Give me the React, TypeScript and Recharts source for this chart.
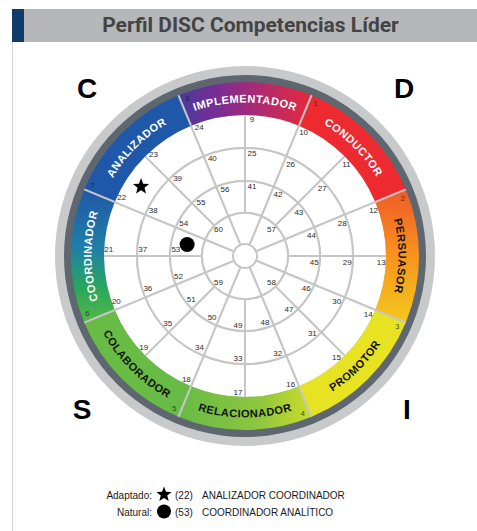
import { Cell, Pie, PieChart } from "recharts";

// DISC wheel, sectors listed clockwise starting at 112.5deg (upper left of top)
const sectorNames = [
  "IMPLEMENTADOR",
  "CONDUCTOR",
  "PERSUASOR",
  "PROMOTOR",
  "RELACIONADOR",
  "COLABORADOR",
  "COORDINADOR",
  "ANALIZADOR",
];
const sectorNumbers = [8, 1, 2, 3, 4, 5, 6, 7];
const sectorFills = [
  "url(#gImpl)",
  "#ec2a30",
  "url(#gPers)",
  "#e7e222",
  "url(#gRel)",
  "#68bc45",
  "url(#gCoord)",
  "#1f58a8",
];
const sectorTextColors = ["#fff", "#fff", "#111", "#111", "#111", "#111", "#fff", "#fff"];
// text reads clockwise (true) or counter-clockwise (false)
const sectorClockwise = [true, true, true, false, false, false, true, true];

// white rings, cells clockwise from 90deg
const outerCells = [9, 10, 11, 12, 13, 14, 15, 16, 17, 18, 19, 20, 21, 22, 23, 24];
const middleCells = [25, 26, 27, 28, 29, 30, 31, 32, 33, 34, 35, 36, 37, 38, 39, 40];
const innerCells = [41, 42, 43, 44, 45, 46, 47, 48, 49, 50, 51, 52, 53, 54, 55, 56];
// core ring, cells clockwise from 112.5deg
const coreCells = [null, 57, null, 58, null, 59, null, 60];

const adaptadoCell = 22;
const naturalCell = 53;
const legendRows = [
  { label: "Adaptado:", marker: "star", code: "(22)", text: "ANALIZADOR COORDINADOR" },
  { label: "Natural:", marker: "dot", code: "(53)", text: "COORDINADOR ANALÍTICO" },
];

const cornerLetters = [
  { text: "C", x: 87, y: 88 },
  { text: "D", x: 404, y: 88 },
  { text: "S", x: 82, y: 409 },
  { text: "I", x: 407, y: 409 },
];

const CX = 245;
const CY = 256;
const RAD = Math.PI / 180;
const gridColor = "#c6c6c6";
const font = "'Liberation Sans', Arial, sans-serif";

const pt = (cx: number, cy: number, r: number, a: number) => ({
  x: cx + r * Math.cos(a * RAD),
  y: cy - r * Math.sin(a * RAD),
});

function starPath(x: number, y: number, R: number, r: number) {
  let d = "";
  for (let i = 0; i < 10; i++) {
    const rr = i % 2 === 0 ? R : r;
    const a = (-90 + i * 36) * RAD;
    d += (i === 0 ? "M" : "L") + (x + rr * Math.cos(a)).toFixed(2) + "," + (y + rr * Math.sin(a)).toFixed(2);
  }
  return d + "Z";
}

const toData = (cells: (number | null)[]) => cells.map((n, i) => ({ name: n == null ? `e${i}` : String(n), value: 1 }));
const sectorData = sectorNames.map((name) => ({ name, value: 1 }));

const ringLabel = (cells: (number | null)[], centered: boolean) => (props: any) => {
  const { cx, cy, startAngle, endAngle, innerRadius, outerRadius, index } = props;
  const n = cells[index];
  const mid = (startAngle + endAngle) / 2;
  const parts: any[] = [];
  if (n != null) {
    const r = outerRadius - 5.5;
    const a = centered ? mid : startAngle - 7 / r / RAD;
    const p = pt(cx, cy, r, a);
    parts.push(
      <text key="t" x={p.x} y={p.y} textAnchor="middle" dominantBaseline="central" fontSize={8} fill="#2b2b2b" fontFamily={font}>
        {n}
      </text>
    );
    const c = pt(cx, cy, (innerRadius + outerRadius) / 2, mid);
    if (n === adaptadoCell) parts.push(<path key="s" d={starPath(c.x, c.y, 8.5, 3.6)} fill="#000" />);
    if (n === naturalCell) parts.push(<circle key="d" cx={c.x} cy={c.y} r={7.5} fill="#000" />);
  }
  return <g>{parts}</g>;
};

const sectorLabel = (props: any) => {
  const { cx, cy, startAngle, endAngle, innerRadius, outerRadius, index } = props;
  const a0 = pt(cx, cy, innerRadius, startAngle);
  const a1 = pt(cx, cy, outerRadius, startAngle);
  const nr = outerRadius - 6;
  const np = pt(cx, cy, nr, startAngle - 7 / nr / RAD);
  const midR = (innerRadius + outerRadius) / 2;
  const cw = sectorClockwise[index];
  const rb = cw ? midR - 4 : midR + 4;
  const s = pt(cx, cy, rb, cw ? startAngle : endAngle);
  const e = pt(cx, cy, rb, cw ? endAngle : startAngle);
  const d = `M${s.x},${s.y} A${rb},${rb} 0 0 ${cw ? 1 : 0} ${e.x},${e.y}`;
  const id = `arc${index}`;
  return (
    <g>
      <line x1={a0.x} y1={a0.y} x2={a1.x} y2={a1.y} stroke={gridColor} strokeWidth={2} />
      <text x={np.x} y={np.y} textAnchor="middle" dominantBaseline="central" fontSize={7.5} fill="#1d1d1d" fillOpacity={0.8} fontFamily={font}>
        {sectorNumbers[index]}
      </text>
      <path id={id} d={d} fill="none" />
      <text fontSize={11} fontWeight={700} fill={sectorTextColors[index]} fontFamily={font} letterSpacing={0.5}>
        <textPath href={`#${id}`} startOffset="50%" textAnchor="middle">
          {sectorNames[index]}
        </textPath>
      </text>
    </g>
  );
};

function Marker({ kind, x, y }: { kind: string; x: number; y: number }) {
  return kind === "star" ? <path d={starPath(x, y, 8, 3.4)} fill="#000" /> : <circle cx={x} cy={y} r={7} fill="#000" />;
}

export default function App() {
  return (
    <div style={{ position: "absolute", left: 0, top: 0, width: 477, height: 531, background: "#fff", overflow: "hidden" }}>
      <svg width={0} height={0} style={{ position: "absolute" }}>
        <defs>
          <linearGradient id="gImpl" x1="0" y1="0" x2="1" y2="0">
            <stop offset="0" stopColor="#4a3a9c" />
            <stop offset="0.3" stopColor="#7a2d94" />
            <stop offset="0.65" stopColor="#b52a6c" />
            <stop offset="1" stopColor="#e8283a" />
          </linearGradient>
          <linearGradient id="gPers" x1="0" y1="0" x2="0" y2="1">
            <stop offset="0" stopColor="#f05a28" />
            <stop offset="0.5" stopColor="#f7941d" />
            <stop offset="1" stopColor="#f4c81c" />
          </linearGradient>
          <linearGradient id="gRel" x1="0" y1="0" x2="1" y2="0">
            <stop offset="0" stopColor="#66bb46" />
            <stop offset="0.6" stopColor="#8dc63f" />
            <stop offset="1" stopColor="#cbdc2a" />
          </linearGradient>
          <linearGradient id="gCoord" x1="0" y1="0" x2="0" y2="1">
            <stop offset="0" stopColor="#1f58a8" />
            <stop offset="0.45" stopColor="#1f80a6" />
            <stop offset="0.75" stopColor="#2aa85a" />
            <stop offset="1" stopColor="#55b848" />
          </linearGradient>
        </defs>
      </svg>

      <div style={{ position: "absolute", left: 12, top: 9, width: 465, height: 33, background: "#b5b7b9" }} />
      <div style={{ position: "absolute", left: 12, top: 9, width: 12, height: 33, background: "#0e3b67" }} />
      <div style={{ position: "absolute", left: 12, top: 42, width: 1, height: 489, background: "#d4d4d4" }} />
      <div
        style={{
          position: "absolute",
          left: 24,
          top: 9,
          width: 453,
          height: 33,
          lineHeight: "33px",
          textAlign: "center",
          fontFamily: "Roboto, sans-serif",
          fontWeight: 700,
          fontSize: 21,
          color: "#444",
        }}
      >
        Perfil DISC Competencias Líder
      </div>

      <div style={{ position: "absolute", left: 0, top: 0 }}>
        <PieChart width={477} height={531} margin={{ top: 0, right: 0, bottom: 0, left: 0 }}>
          <Pie data={[{ name: "o", value: 1 }]} dataKey="value" cx={CX} cy={CY} innerRadius={180} outerRadius={190} startAngle={90} endAngle={-270} fill="#c8c9cb" stroke="none" isAnimationActive={false} />
          <Pie data={[{ name: "d", value: 1 }]} dataKey="value" cx={CX} cy={CY} innerRadius={173} outerRadius={181} startAngle={90} endAngle={-270} fill="#5e6670" stroke="none" isAnimationActive={false} />
          <Pie data={toData(outerCells)} dataKey="value" cx={CX} cy={CY} innerRadius={108} outerRadius={142} startAngle={90} endAngle={-270} fill="#fff" stroke={gridColor} strokeWidth={2} isAnimationActive={false} label={ringLabel(outerCells, false)} labelLine={false} />
          <Pie data={toData(middleCells)} dataKey="value" cx={CX} cy={CY} innerRadius={75} outerRadius={108} startAngle={90} endAngle={-270} fill="#fff" stroke={gridColor} strokeWidth={2} isAnimationActive={false} label={ringLabel(middleCells, false)} labelLine={false} />
          <Pie data={toData(innerCells)} dataKey="value" cx={CX} cy={CY} innerRadius={43} outerRadius={75} startAngle={90} endAngle={-270} fill="#fff" stroke={gridColor} strokeWidth={2} isAnimationActive={false} label={ringLabel(innerCells, false)} labelLine={false} />
          <Pie data={toData(coreCells)} dataKey="value" cx={CX} cy={CY} innerRadius={12} outerRadius={43} startAngle={112.5} endAngle={-247.5} fill="#fff" stroke={gridColor} strokeWidth={2} isAnimationActive={false} label={ringLabel(coreCells, true)} labelLine={false} />
          <Pie data={sectorData} dataKey="value" cx={CX} cy={CY} innerRadius={141} outerRadius={174} startAngle={112.5} endAngle={-247.5} stroke="none" isAnimationActive={false} label={sectorLabel} labelLine={false}>
            {sectorData.map((s, i) => (
              <Cell key={s.name} fill={sectorFills[i]} />
            ))}
          </Pie>
        </PieChart>
      </div>

      <svg width={477} height={531} style={{ position: "absolute", left: 0, top: 0, pointerEvents: "none" }}>
        {cornerLetters.map((l) => (
          <text key={l.text} x={l.x} y={l.y} textAnchor="middle" dominantBaseline="central" fontSize={28} fontWeight={700} fill="#000" fontFamily={font}>
            {l.text}
          </text>
        ))}
        {legendRows.map((row, i) => {
          const y = 495 + i * 17;
          return (
            <g key={row.label} fontFamily={font} fontSize={10} fill="#1a1a1a">
              <text x={152} y={y} textAnchor="end" dominantBaseline="central">
                {row.label}
              </text>
              <Marker kind={row.marker} x={164} y={y - 0.5} />
              <text x={175} y={y} dominantBaseline="central">
                {row.code}
              </text>
              <text x={202} y={y} dominantBaseline="central">
                {row.text}
              </text>
            </g>
          );
        })}
      </svg>
    </div>
  );
}
